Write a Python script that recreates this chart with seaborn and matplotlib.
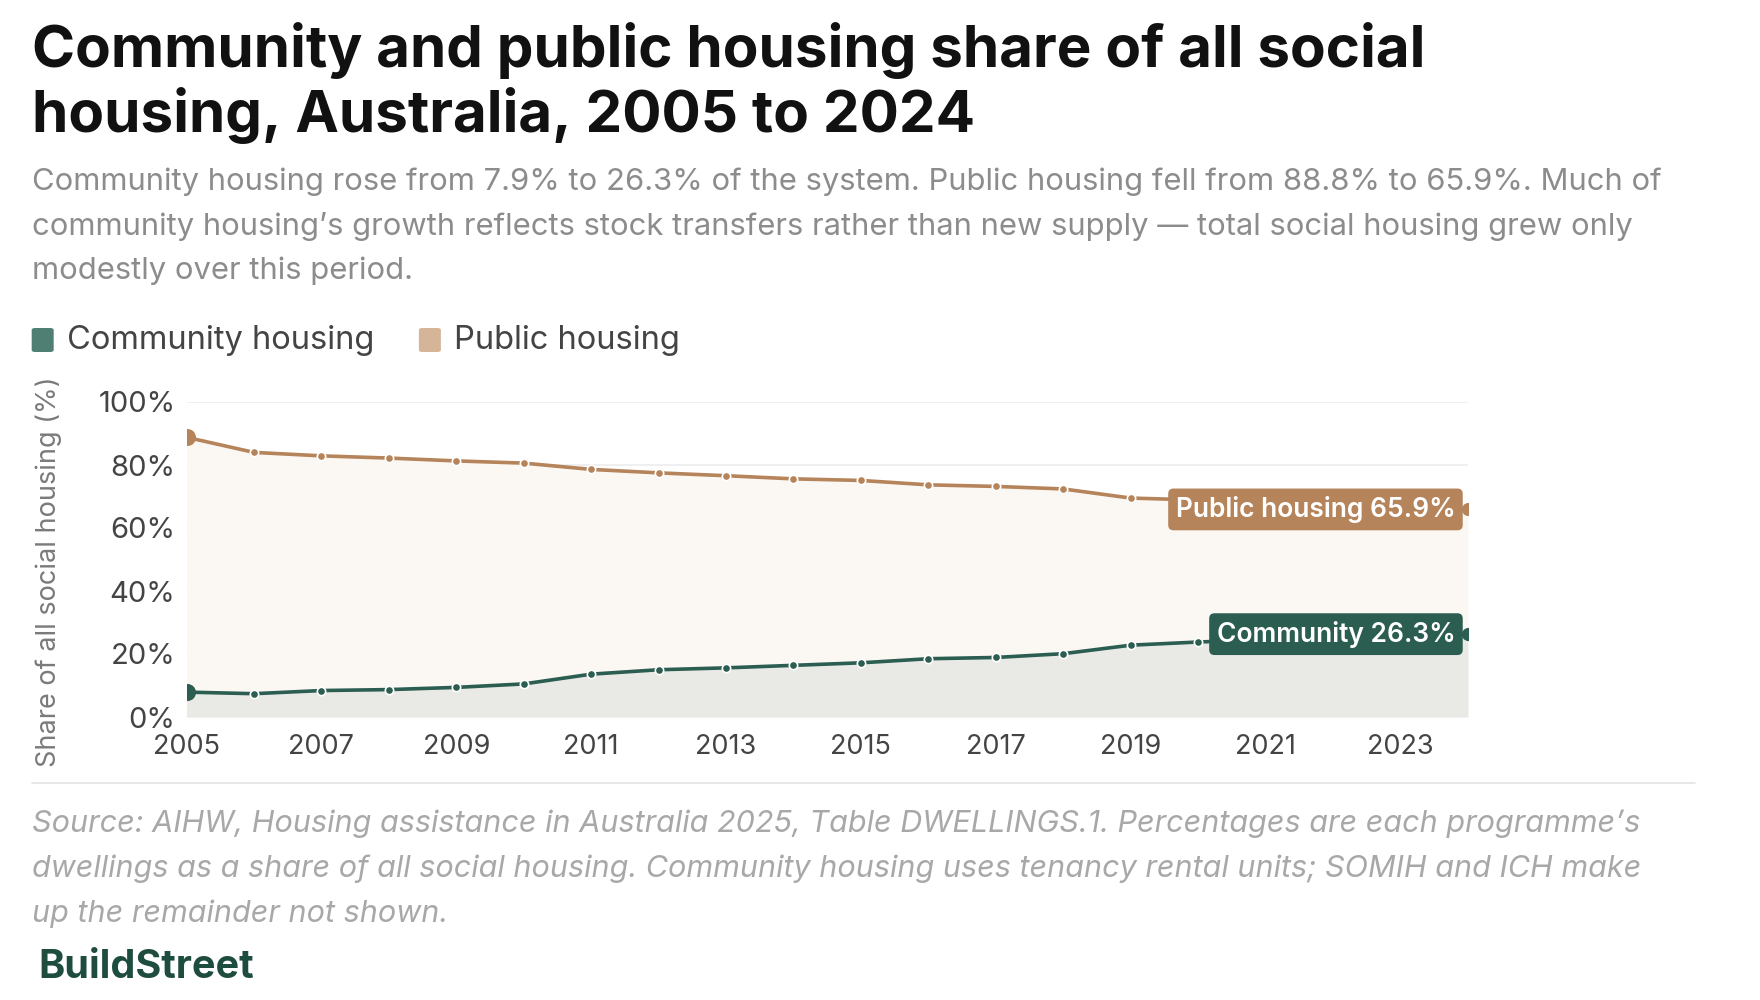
import matplotlib
matplotlib.use("Agg")
import matplotlib.pyplot as plt
from matplotlib.patches import FancyBboxPatch
import pandas as pd
import seaborn as sns

# --- data ---
years = list(range(2005, 2025))
community = [7.9, 7.4, 8.4, 8.7, 9.4, 10.5, 13.6, 15.0, 15.6, 16.4,
             17.2, 18.5, 18.9, 20.1, 22.8, 23.8, 24.6, 25.2, 25.8, 26.3]
public = [88.8, 84.0, 82.9, 82.2, 81.3, 80.6, 78.6, 77.5, 76.6, 75.6,
          75.1, 73.7, 73.2, 72.4, 69.5, 68.9, 68.0, 67.3, 66.6, 65.9]
series_names = ["Community housing", "Public housing"]
end_labels = ["Community 26.3%", "Public housing 65.9%"]
x_ticks = list(range(2005, 2024, 2))
y_ticks = [0, 20, 40, 60, 80, 100]

title = "Community and public housing share of all social\nhousing, Australia, 2005 to 2024"
subtitle = ("Community housing rose from 7.9% to 26.3% of the system. Public housing fell from 88.8% to 65.9%. Much of\n"
            "community housing\u2019s growth reflects stock transfers rather than new supply \u2014 total social housing grew only\n"
            "modestly over this period.")
source = ("Source: AIHW, Housing assistance in Australia 2025, Table DWELLINGS.1. Percentages are each programme\u2019s\n"
          "dwellings as a share of all social housing. Community housing uses tenancy rental units; SOMIH and ICH make\n"
          "up the remainder not shown.")

df = pd.DataFrame({"year": years, "Community housing": community, "Public housing": public})
long = df.melt(id_vars="year", var_name="series", value_name="share")

# colours
green = "#2b5d51"
green_light = "#4f7e72"
brown = "#b5845b"
brown_light = "#d5b597"
fill_public = "#fbf7f3"
fill_comm = "#e9eae6"

sns.set_theme(style="white")
plt.rcParams["font.family"] = ["Inter", "DejaVu Sans"]

fig = plt.figure(figsize=(17.6, 10), dpi=100)
ax = fig.add_axes([0.106, 0.283, 0.728, 0.315])

ax.fill_between(df["year"], 0, df["Public housing"], color=fill_public, lw=0, zorder=1)
ax.fill_between(df["year"], 0, df["Community housing"], color=fill_comm, lw=0, zorder=1)

sns.lineplot(data=long, x="year", y="share", hue="series",
             palette={"Community housing": green, "Public housing": brown},
             linewidth=2.6, marker="o", markersize=6, markeredgecolor="white",
             markeredgewidth=1.2, legend=False, ax=ax, zorder=3)

# larger start/end dots
for name, col in [("Community housing", green), ("Public housing", brown)]:
    ax.scatter([df["year"].iloc[0]], [df[name].iloc[0]], s=150, color=col, zorder=4, lw=0)
    ax.scatter([df["year"].iloc[-1]], [df[name].iloc[-1]], s=90, color=col, zorder=4, lw=0)

# end labels
for name, lab, col in [("Community housing", end_labels[0], green), ("Public housing", end_labels[1], brown)]:
    ax.annotate(lab, xy=(df["year"].iloc[-1], df[name].iloc[-1]), xytext=(-9, 0),
                textcoords="offset points", ha="right", va="center",
                fontsize=19, fontweight="semibold", color="white", zorder=5,
                bbox=dict(boxstyle="round,pad=0.28,rounding_size=0.2", fc=col, ec="none"))

ax.set_xlim(2005, 2024)
ax.set_ylim(0, 100)
ax.set_xticks(x_ticks)
ax.set_xticklabels([str(t) for t in x_ticks])
ax.set_yticks(y_ticks)
ax.set_yticklabels([f"{t}%" for t in y_ticks])
ax.tick_params(axis="x", labelsize=19.5, colors="#444444", length=0, pad=12)
ax.tick_params(axis="y", labelsize=21, colors="#444444", length=0, pad=8)
ax.grid(axis="y", color="#ececec", lw=1.2, zorder=0)
ax.set_axisbelow(True)
for s in ax.spines.values():
    s.set_visible(False)
ax.set_xlabel("")
ax.set_ylabel("Share of all social housing (%)", fontsize=19.5, color="#7a7a7a")
ax.yaxis.set_label_coords(-0.0975, 0.46)

# titles
fig.text(0.018, 0.978, title, fontsize=42, fontweight="bold", color="#111111",
         va="top", ha="left", linespacing=1.18)
fig.text(0.018, 0.833, subtitle, fontsize=22.3, color="#8c8c8c", va="top", ha="left", linespacing=1.7)

# legend
leg_y = 0.660
for x0, name, col in [(0.018, series_names[0], green_light), (0.238, series_names[1], brown_light)]:
    fig.patches.append(FancyBboxPatch((x0, leg_y - 0.012), 0.0125, 0.024,
                                      boxstyle="round,pad=0,rounding_size=0.002",
                                      transform=fig.transFigure, fc=col, ec="none"))
    fig.text(x0 + 0.02, leg_y, name, fontsize=23.5, color="#444444", va="center", ha="left")

# separator
fig.add_artist(plt.Line2D([0.018, 0.963], [0.217, 0.217], color="#e3e3e3", lw=1.2,
                          transform=fig.transFigure))

fig.text(0.018, 0.19, source, fontsize=22, color="#a8a8a8", style="italic",
         va="top", ha="left", linespacing=1.72)
fig.text(0.022, 0.033, "BuildStreet", fontsize=28.5, fontweight="bold", color="#1e4d40",
         va="center", ha="left")

fig.savefig("out.png", dpi=100)
